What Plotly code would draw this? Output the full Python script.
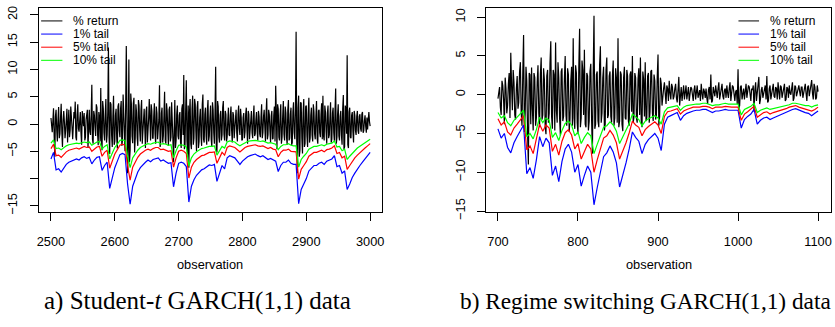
import plotly.graph_objects as go

# ---------------- data: panel a (Student-t GARCH(1,1)) ----------------
a_ret_start, a_ret_step = 2500, 1
a_return = [
    1.1, -0.3, -1.5, 0.6, 2.9, -2.2, -6.0, 1.4, 2.6, -1.0, -3.2, 0.8, 3.1, -2.6, -1.8, 1.2, 3.7, -1.4, -4.2, 0.5,
    2.4, 0.4, -2.6, -1.2, 1.5, 2.8, -3.4, 0.2, 2.6, -2.4, -1.2, 3.2, 1.9, -0.6, -2.8, -0.8, 2.2, 1.0, 4.1, -2.4,
    -3.0, 1.8, 3.6, -0.8, -1.4, 0.6, 2.2, -1.6, -3.8, 2.4, 1.2, -0.4, 2.0, -3.0, -2.4, 0.8, 1.5, 2.6, -4.4, 1.0,
    2.6, -1.4, -2.0, 1.8, 7.2, -2.8, -3.6, 2.4, 1.6, -0.6, -2.2, 3.6, 3.0, -1.8, -3.9, 2.2, 1.2, -3.2, 6.6, -2.6,
    -4.8, 4.2, 2.8, -1.6, -3.0, 1.8, 4.6, -3.4, -2.0, 2.2, 14.0, -2.4, -5.5, 4.0, 3.6, -2.0, -4.2, 1.4, 5.2, -3.8,
    -3.2, 1.6, 2.8, -2.6, -4.5, 3.2, 3.8, -1.2, -2.4, 2.8, 4.2, -4.0, -3.0, 5.4, 1.6, -2.8, -5.0, 3.0, 14.3, 2.0,
    -9.0, -4.0, 11.8, -7.0, -4.8, 5.6, 3.6, -2.2, -3.5, 3.8, 4.8, -5.2, -2.6, 3.6, 2.2, -2.4, -4.0, 4.4, 3.4, -1.2,
    -3.2, 2.6, 4.4, -3.6, -1.6, 1.8, 2.8, -0.8, -4.4, 2.4, 3.2, -3.4, -2.0, 1.0, 4.6, -1.8, -3.0, 3.6, 2.4, -2.6,
    -2.6, 1.4, 3.8, -1.8, -3.6, 3.2, 2.0, -2.8, -1.5, 0.8, 7.1, -4.2, -3.2, 2.0, 3.0, -3.4, -2.2, 1.6, 5.9, -3.0,
    -3.6, 3.8, 2.4, -1.2, -4.0, 2.6, 3.2, -3.2, -2.4, 4.0, 1.6, -2.8, -7.0, 2.6, 4.4, -4.4, -3.0, 1.8, 3.4, -2.2,
    -2.8, 1.6, 2.2, -3.4, -4.4, 2.8, 3.6, -2.0, 9.0, -4.6, -3.8, 2.4, 8.0, -3.0, -5.6, 3.4, -8.0, 2.2, 4.6, -3.6,
    -4.6, 2.8, 5.2, -3.8, -2.6, 4.6, 3.6, -1.4, -5.0, 3.0, 4.2, -4.4, -3.2, 1.2, 2.8, -2.2, -4.0, 3.6, 5.4, -2.8,
    -3.4, 1.8, 3.0, -2.2, -3.8, 2.6, 4.4, -3.2, -2.2, 1.2, 3.4, -2.8, -4.2, 4.0, 2.6, -1.6, -3.6, 2.2, 10.5, -4.4,
    -5.2, 4.2, 3.2, -2.4, -3.4, 1.6, 2.4, -3.0, -2.0, 3.0, 4.2, -1.8, -3.0, 2.4, 1.8, -3.2, -2.4, 0.8, 3.0, -2.0,
    -2.2, 1.6, 3.2, -1.2, -3.4, 2.2, 1.6, -2.6, -1.0, 0.6, 2.6, -1.6, -3.2, 1.8, 3.4, -0.8, -2.0, 2.8, 1.2, -3.0,
    -2.8, 1.2, 2.0, -2.6, -1.4, 1.8, 3.0, -1.0, -3.6, 2.4, 1.8, -2.8, -1.2, 0.8, 2.4, -1.6, -2.6, 1.4, 3.4, -2.2,
    -1.8, 0.8, 2.2, -1.4, -3.0, 2.4, 1.4, -1.8, -2.4, 1.2, 3.6, -2.6, -1.6, 1.4, 2.6, -0.6, -3.2, 2.0, 4.7, -2.8,
    -2.0, 2.6, 1.8, -1.2, -3.4, 1.4, 2.4, -2.8, -2.6, 1.6, 3.2, -3.2, 7.0, 2.4, -4.6, 3.6, 2.8, -2.4, -3.0, 1.8,
    3.6, -3.6, -2.4, 1.4, 4.2, -1.8, -3.0, 3.2, 2.0, -2.4, -3.8, 2.6, 4.4, -3.0, -2.6, 1.8, 3.0, -3.8, -3.4, 2.2,
    4.0, -1.6, -2.8, 2.4, 16.9, -3.0, -9.0, 3.0, 5.2, -6.0, -4.8, 4.0, 3.8, -2.6, -5.4, 2.0, 4.6, -4.2, -3.6, 3.2,
    3.4, -2.2, -4.2, 2.0, 4.8, -3.4, -2.6, 1.6, 3.0, -2.0, -3.2, 3.6, 2.2, -1.8, -2.8, 1.4, 4.2, -2.6, -3.6, 2.4,
    2.6, -1.6, -2.4, 1.8, 3.8, -2.8, 5.2, -2.2, -3.0, 3.4, 2.2, -1.4, -3.6, 2.0, 3.4, -2.6, -2.0, 1.2, 4.0, -3.4,
    -2.8, 2.0, 3.0, -1.6, -3.2, 2.6, 6.5, -3.6, -2.4, 1.8, 3.6, -2.2, -3.0, 1.4, 2.4, -2.0, -3.8, 2.8, 5.3, -4.6,
    -4.2, 3.4, 2.6, -1.8, 12.6, -3.8, -4.4, 2.2, 3.0, -2.4, -2.6, 1.6, 2.2, -1.4, -3.4, 2.4, 1.6, -1.2, -2.0, 1.4,
    2.4, -1.2, -1.8, 1.4, 1.8, -0.8, -1.4, 1.8, 2.2, -1.6, -1.2, 0.6, 1.6, -0.4, -1.6, 1.2, -1.0, 0.8, 2.2, 0.4,
    -0.4,
]
a_tail_start, a_tail_step = 2500, 4
a_tail1 = [
    -6.4, -5.2, -8.4, -8.2, -8.8, -8.0, -7.4, -7.0, -6.8, -6.5,
    -6.4, -6.6, -6.2, -6.0, -6.3, -6.1, -7.3, -6.6, -6.1, -6.0,
    -8.5, -7.6, -7.0, -11.8, -9.6, -8.0, -6.8, -5.6, -5.4, -5.6,
    -11.0, -14.7, -11.4, -10.0, -8.8, -8.0, -7.4, -7.0, -6.6, -6.9,
    -6.5, -6.3, -6.2, -6.8, -6.6, -6.9, -7.2, -7.1, -11.5, -9.0,
    -7.2, -7.0, -7.2, -7.8, -14.3, -11.4, -10.2, -9.4, -8.8, -8.4,
    -8.2, -7.8, -7.5, -7.6, -7.4, -10.5, -8.8, -7.6, -8.2, -6.2,
    -5.8, -6.0, -6.2, -6.8, -7.4, -6.8, -6.3, -6.0, -5.8, -5.6,
    -5.5, -5.8, -6.0, -5.8, -6.2, -6.5, -6.3, -6.6, -6.8, -8.7,
    -7.6, -7.0, -7.0, -6.6, -7.2, -7.4, -7.4, -14.6, -12.0, -11.0,
    -10.0, -8.6, -8.0, -7.6, -7.6, -7.2, -7.0, -7.4, -6.8, -6.6,
    -6.4, -5.8, -7.8, -7.6, -9.0, -8.6, -12.0, -11.0, -9.8, -9.0,
    -8.2, -7.6, -7.0, -6.4, -5.8, -5.2,
]
a_tail5 = [
    -4.5, -3.7, -5.8, -5.7, -6.1, -5.5, -5.1, -4.8, -4.7, -4.5,
    -4.4, -4.6, -4.3, -4.1, -4.3, -4.2, -5.0, -4.6, -4.2, -4.1,
    -5.9, -5.2, -4.8, -8.1, -6.6, -5.5, -4.7, -3.9, -3.7, -3.9,
    -7.6, -10.3, -7.9, -6.9, -6.1, -5.5, -5.1, -4.8, -4.6, -4.8,
    -4.5, -4.3, -4.3, -4.7, -4.6, -4.8, -5.0, -4.9, -7.9, -6.2,
    -5.0, -4.8, -5.0, -5.4, -9.9, -7.9, -7.0, -6.5, -6.1, -5.8,
    -5.7, -5.4, -5.2, -5.2, -5.1, -7.2, -6.1, -5.2, -5.7, -4.3,
    -4.0, -4.1, -4.3, -4.7, -5.1, -4.7, -4.3, -4.1, -4.0, -3.9,
    -3.8, -4.0, -4.1, -4.0, -4.3, -4.5, -4.3, -4.6, -4.7, -6.0,
    -5.2, -4.8, -4.8, -4.6, -5.0, -5.1, -5.1, -10.1, -8.3, -7.6,
    -6.9, -5.9, -5.5, -5.2, -5.2, -5.0, -4.8, -5.1, -4.7, -4.6,
    -4.4, -4.0, -5.4, -5.2, -6.2, -5.9, -8.3, -7.6, -6.8, -6.2,
    -5.7, -5.2, -4.8, -4.4, -4.0, -3.6,
]
a_tail10 = [
    -3.5, -2.9, -4.5, -4.4, -4.7, -4.3, -4.0, -3.8, -3.7, -3.5,
    -3.5, -3.6, -3.4, -3.3, -3.4, -3.3, -3.9, -3.6, -3.3, -3.2,
    -4.6, -4.1, -3.8, -6.4, -5.2, -4.3, -3.7, -3.0, -2.9, -3.0,
    -5.9, -8.0, -6.2, -5.4, -4.8, -4.3, -4.0, -3.8, -3.6, -3.7,
    -3.5, -3.4, -3.3, -3.7, -3.6, -3.7, -3.9, -3.8, -6.2, -4.9,
    -3.9, -3.8, -3.9, -4.2, -7.7, -6.2, -5.5, -5.1, -4.8, -4.5,
    -4.4, -4.2, -4.1, -4.1, -4.0, -5.7, -4.8, -4.1, -4.4, -3.3,
    -3.1, -3.2, -3.3, -3.7, -4.0, -3.7, -3.4, -3.2, -3.1, -3.0,
    -3.0, -3.1, -3.2, -3.1, -3.3, -3.5, -3.4, -3.6, -3.7, -4.7,
    -4.1, -3.8, -3.8, -3.6, -3.9, -4.0, -4.0, -7.9, -6.5, -5.9,
    -5.4, -4.6, -4.3, -4.1, -4.1, -3.9, -3.8, -4.0, -3.7, -3.6,
    -3.5, -3.1, -4.2, -4.1, -4.9, -4.6, -6.5, -5.9, -5.3, -4.9,
    -4.4, -4.1, -3.8, -3.5, -3.1, -2.8,
]
a_xticks = [2500, 2600, 2700, 2800, 2900, 3000]
a_yticks = [-15, -10, -5, 0, 5, 10, 15, 20]
a_yticktext = ["\u221215", "", "\u22125", "0", "5", "10", "15", "20"]

# ---------------- data: panel b (Regime switching GARCH(1,1)) ----------------
b_ret_start, b_ret_step = 700, 1
b_return = [
    -0.5, 0.6, 1.0, -1.6, -2.6, 1.8, 1.2, -0.6, -3.8, 2.2, 0.8, -2.4, -1.4, 1.4, 2.8, -3.0, 5.4, 1.2, -2.0, 3.2,
    1.6, -2.6, -3.2, 0.8, 2.4, -1.8, -1.0, 3.0, 4.2, -2.2, -4.0, 2.6, 7.7, -4.8, -2.4, 3.6, 1.8, -5.0, -9.0, 2.8,
    2.6, -3.8, 3.5, -1.8, -4.6, 2.8, 2.2, -4.0, -3.0, 1.6, 3.8, -2.4, -4.2, 2.6, 4.8, -3.2, -2.6, 3.4, 2.0, -4.2,
    -5.1, 2.4, 3.2, -3.6, -2.4, 4.0, 6.9, -2.8, -4.4, 3.2, 2.6, -4.6, 6.75, -2.0, -3.6, 4.2, 2.2, -3.0, -5.3, 3.0,
    3.4, -3.4, -2.8, 2.0, 5.0, -2.6, -4.0, 3.4, 2.6, -4.8, -3.2, 1.8, 3.6, -4.0, 7.3, -3.0, -4.4, 3.8, 2.8, -3.6,
    -5.1, 3.4, 8.5, -4.2, -3.0, 4.4, 3.2, -2.6, 5.8, -3.8, -4.2, 2.8, 2.4, -4.6, -3.4, 3.0, 4.0, -3.2, -7.6, 2.6,
    10.2, -4.4, -3.8, 2.6, 3.0, -3.4, -4.2, 3.8, 6.25, -3.6, -2.4, 2.2, 3.6, -4.6, -3.8, 3.2, 4.8, -3.0, -2.6, 2.4,
    3.0, -2.8, -3.6, 2.4, 4.4, -4.0, -3.0, 3.4, 2.2, -3.6, 7.3, -4.2, -3.4, 3.0, 2.6, -3.8, -4.7, 2.2, 3.6, -3.0,
    -3.2, 3.2, 2.4, -3.4, -4.0, 2.6, 3.0, -2.2, 5.0, -3.6, -2.8, 2.8, 2.2, -3.0, -3.6, 2.0, 3.4, -2.6, 4.8, -3.4,
    -4.2, 3.0, 2.0, -2.8, 4.2, -3.4, -3.0, 2.4, 2.8, -3.6, -2.2, 3.0, 3.2, -2.4, -3.4, 2.6, 1.8, -3.2, -2.6, 2.2,
    5.2, -4.0, -2.8, 2.2, 1.4, -1.4, 0.2, 0.8, 1.6, -0.4, -1.2, 1.2, 0.8, -0.8, 1.8, 0.2, -0.6, 1.4, 1.0, -0.6,
    -0.2, 0.8, 1.4, -0.4, -1.0, 0.6, 2.3, -1.4, 0.2, 1.0, -0.8, 0.4, 1.2, -0.6, 0.4, 1.2, -0.6, 0.2, 1.0, -0.8,
    0.0, 1.0, 0.8, -0.2, -0.8, 0.6, 1.2, -0.6, 0.2, 1.2, -0.4, 0.4, 0.6, -0.8, 1.4, 0.2, -0.6, 0.8, 0.4, -0.4,
    0.8, -0.4, -1.2, 0.6, 1.0, -0.6, 2.6, -1.0, -0.8, 1.0, 0.4, -0.2, 1.2, 0.4, -0.4, 0.8, 1.6, -0.6, 0.2, 0.6,
    1.4, -0.2, -0.6, 0.6, 0.8, -0.4, 1.2, 0.2, -0.4, 0.8, 1.6, -0.8, 0.0, 1.2, 1.0, -0.2, -0.8, 0.4, 0.6, -1.2,
    3.3, -1.8, -1.4, 1.0, 1.2, -0.6, 0.4, 0.8, -0.6, 0.4, 1.4, -0.4, 0.2, 1.2, 1.0, -0.2, -0.8, 0.8, 0.6, 1.2,
    -2.2, 0.6, 1.6, -0.8, 0.4, 1.0, 2.3, -1.2, -0.6, 0.6, 1.0, -0.4, 0.2, 0.8, 1.2, -0.6, 2.4, -1.0, -0.8, 0.8,
    1.2, -0.6, 0.0, 0.8, 1.4, -0.2, -0.4, 1.0, 0.8, -0.6, 1.6, 0.4, -0.6, 1.2, 1.0, -0.4, 0.2, 0.6, 1.4, -0.8,
    -0.6, 1.0, 0.8, -0.4, 1.2, 0.2, 0.0, 0.8, 1.6, -0.8, -0.4, 1.2, 1.0, -0.2, 0.4, 0.6, 1.2, 0.4, -0.2, 1.0,
    1.0, -0.4, 0.4, 0.8, 1.4, 0.2, -0.8, 1.0, 1.2, -0.2, 0.6, 1.6, 1.9, 0.2, -0.6, 1.4, 1.0, -0.6, -0.4, 1.2,
    0.4,
]
b_tail_start, b_tail_step = 700, 4
b_tail1 = [
    -4.4, -5.6, -5.0, -6.8, -7.5, -6.2, -5.4, -4.6, -3.9, -10.2,
    -9.4, -10.8, -8.4, -5.4, -6.7, -5.6, -6.2, -10.4, -9.2, -11.2,
    -8.6, -7.0, -6.4, -7.4, -10.0, -9.0, -11.8, -10.4, -9.2, -10.0,
    -14.2, -12.0, -10.0, -8.0, -7.5, -6.6, -7.4, -8.8, -11.9, -10.4,
    -8.8, -7.0, -4.8, -5.5, -6.0, -7.6, -6.4, -5.8, -5.4, -5.0,
    -5.6, -7.2, -3.8, -2.9, -2.7, -2.5, -2.3, -3.3, -2.7, -2.4,
    -2.2, -2.1, -2.0, -2.0, -1.9, -1.9, -2.1, -2.3, -2.1, -2.1,
    -2.0, -1.9, -2.0, -2.0, -2.0, -2.0, -4.3, -3.2, -2.8, -2.5,
    -1.9, -3.8, -3.3, -3.0, -2.9, -3.2, -3.0, -2.8, -2.7, -2.5,
    -2.3, -2.1, -1.9, -1.8, -2.0, -2.2, -2.3, -2.4, -2.7, -2.4,
    -2.1,
]
b_tail5 = [
    -3.1, -3.9, -3.5, -4.8, -5.2, -4.3, -3.8, -3.2, -2.7, -7.1,
    -6.6, -7.6, -5.9, -3.8, -4.7, -3.9, -4.3, -7.3, -6.4, -7.8,
    -6.0, -4.9, -4.5, -5.2, -7.0, -6.3, -8.3, -7.3, -6.4, -7.0,
    -10.0, -8.4, -7.0, -5.6, -5.3, -4.6, -5.2, -6.2, -8.3, -7.3,
    -6.2, -4.9, -3.4, -3.9, -4.2, -5.3, -4.5, -4.1, -3.8, -3.5,
    -3.9, -5.0, -2.8, -2.2, -2.1, -1.9, -1.8, -2.5, -2.1, -1.9,
    -1.7, -1.6, -1.6, -1.6, -1.5, -1.5, -1.6, -1.8, -1.6, -1.6,
    -1.6, -1.5, -1.6, -1.6, -1.6, -1.6, -3.3, -2.5, -2.2, -1.9,
    -1.5, -2.9, -2.6, -2.3, -2.2, -2.5, -2.3, -2.2, -2.1, -1.9,
    -1.8, -1.6, -1.5, -1.4, -1.6, -1.7, -1.8, -1.9, -2.1, -1.9,
    -1.6,
]
b_tail10 = [
    -2.3, -3.0, -2.7, -3.6, -4.0, -3.3, -2.9, -2.4, -2.0, -5.4,
    -5.0, -5.7, -4.5, -2.9, -3.6, -3.0, -3.3, -5.5, -4.9, -5.9,
    -4.6, -3.7, -3.4, -3.9, -5.3, -4.8, -6.3, -5.5, -4.9, -5.3,
    -7.6, -6.4, -5.3, -4.2, -4.0, -3.5, -3.9, -4.7, -6.3, -5.5,
    -4.7, -3.7, -2.5, -2.9, -3.2, -4.0, -3.4, -3.1, -2.9, -2.7,
    -3.0, -3.8, -2.2, -1.7, -1.6, -1.5, -1.4, -2.0, -1.6, -1.4,
    -1.3, -1.3, -1.2, -1.2, -1.1, -1.1, -1.3, -1.4, -1.3, -1.3,
    -1.2, -1.1, -1.2, -1.2, -1.2, -1.2, -2.6, -1.9, -1.7, -1.5,
    -1.1, -2.3, -2.0, -1.8, -1.7, -1.9, -1.8, -1.7, -1.6, -1.5,
    -1.4, -1.3, -1.1, -1.1, -1.2, -1.3, -1.4, -1.4, -1.6, -1.4,
    -1.3,
]
b_xticks = [700, 800, 900, 1000, 1100]
b_yticks = [-15, -10, -5, 0, 5, 10]
b_yticktext = ["\u221215", "\u221210", "\u22125", "0", "5", "10"]

series_names = ["% return", "1% tail", "5% tail", "10% tail"]
series_colors = ["#000000", "#0000ff", "#ff0000", "#00ff00"]
x_title = "observation"
captions = ["a) Student-<i>t</i> GARCH(1,1) data", "b) Regime switching GARCH(1,1) data"]

# ---------------- layout geometry (pixels of the 835x327 page) ----------------
W, H = 835, 327
def px(x):
    return x / W
def py(y):
    return 1 - y / H

SANS = "Liberation Sans, Arial, Helvetica, sans-serif"
SERIF = "Liberation Serif, Times New Roman, serif"
FS = 12.8
LEG_FS = 12.0

fig = go.Figure()

def obs_axis(start, step, n):
    return list(range(start, start + step * n, step))

panels = [
    dict(xa="x", ya="y",
         ret=(a_ret_start, a_ret_step, a_return),
         tails=[(a_tail_start, a_tail_step, a_tail1),
                (a_tail_start, a_tail_step, a_tail5),
                (a_tail_start, a_tail_step, a_tail10)]),
    dict(xa="x2", ya="y2",
         ret=(b_ret_start, b_ret_step, b_return),
         tails=[(b_tail_start, b_tail_step, b_tail1),
                (b_tail_start, b_tail_step, b_tail5),
                (b_tail_start, b_tail_step, b_tail10)]),
]

for p in panels:
    allser = [p["ret"]] + p["tails"]
    for (start, step, vals), name, col in zip(allser, series_names, series_colors):
        fig.add_trace(go.Scatter(
            x=obs_axis(start, step, len(vals)), y=vals, mode="lines", name=name,
            line=dict(color=col, width=1.2), xaxis=p["xa"], yaxis=p["ya"],
            showlegend=False, hoverinfo="skip"))

axis_common = dict(showline=True, mirror=True, linecolor="black", linewidth=1,
                   ticks="outside", ticklen=8, tickwidth=1, tickcolor="black",
                   showgrid=False, zeroline=False,
                   tickfont=dict(family=SANS, size=FS, color="black"))

a_dom_x = [px(36.7), px(382.3)]
b_dom_x = [px(486.7), px(832.7)]
dom_y = [py(217.3), py(6.7)]

fig.update_layout(
    width=W, height=H, margin=dict(l=0, r=0, t=0, b=0),
    paper_bgcolor="white", plot_bgcolor="white", showlegend=False,
    xaxis=dict(domain=a_dom_x, range=[2480.5, 3019.3], anchor="y",
               tickmode="array", tickvals=a_xticks, ticklabelstandoff=9, **axis_common),
    yaxis=dict(domain=dom_y, range=[-16.18, 21.35], anchor="x",
               tickmode="array", tickvals=a_yticks, ticktext=a_yticktext,
               tickangle=-90, ticklabelstandoff=7, **axis_common),
    xaxis2=dict(domain=b_dom_x, range=[685.5, 1115.8], anchor="y2",
                tickmode="array", tickvals=b_xticks, ticklabelstandoff=9, **axis_common),
    yaxis2=dict(domain=dom_y, range=[-15.17, 11.25], anchor="x2",
                tickmode="array", tickvals=b_yticks, ticktext=b_yticktext,
                tickangle=-90, ticklabelstandoff=7, **axis_common),
)

annotations = []
shapes = []
# axis titles
for cx in [(36.7 + 382.3) / 2, (486.7 + 832.7) / 2]:
    annotations.append(dict(text=x_title, x=px(cx), y=py(271), xref="paper", yref="paper",
                            xanchor="center", yanchor="middle", showarrow=False,
                            font=dict(family=SANS, size=FS, color="black")))
# captions
for cap, lx, fs in zip(captions, [40, 458.3], [25, 23.3]):
    annotations.append(dict(text=cap, x=px(lx), y=py(309), xref="paper", yref="paper",
                            xanchor="left", yanchor="middle", showarrow=False,
                            font=dict(family=SERIF, size=fs, color="black")))
# legends
legend_rows = [20.5, 34.0, 47.5, 61.0]
for (l0, l1, tx) in [(39.3, 60.7, 70.7), (740, 760.7, 771)]:
    for name, col, ry in zip(series_names, series_colors, legend_rows):
        shapes.append(dict(type="line", xref="paper", yref="paper",
                           x0=px(l0), x1=px(l1), y0=py(ry), y1=py(ry),
                           line=dict(color=col, width=1)))
        annotations.append(dict(text=name, x=px(tx), y=py(ry), xref="paper", yref="paper",
                                xanchor="left", yanchor="middle", showarrow=False,
                                borderpad=0,
                                font=dict(family=SANS, size=LEG_FS, color="black")))

fig.update_layout(annotations=annotations, shapes=shapes)
fig.write_html("out.html")
